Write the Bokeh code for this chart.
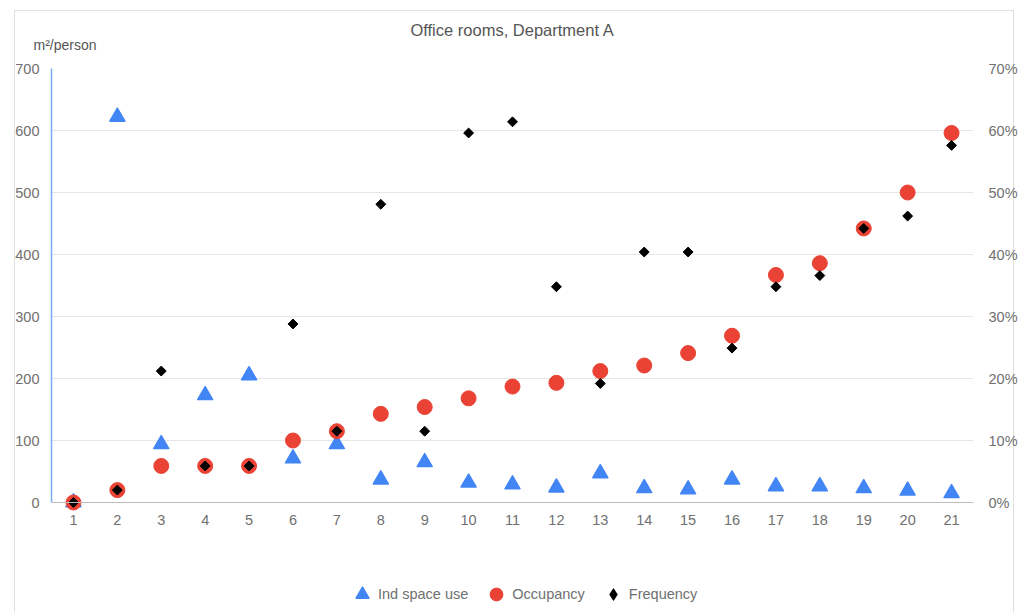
import math
from bokeh.plotting import figure
from bokeh.models import (ColumnDataSource, LinearAxis, Range1d, Legend, LegendItem,
                          FixedTicker, PrintfTickFormatter, Title, Span)
from bokeh.embed import file_html
from bokeh.resources import INLINE

rooms = list(range(1, 22))
room_labels = [str(r) for r in rooms]
ind_space_use = [0, 622, 94, 173, 205, 71, 94, 37, 65, 32, 29, 24, 47, 23, 21, 37, 26, 26, 23, 19, 15]
occupancy_pct = [0, 2.0, 5.9, 5.9, 5.9, 10.0, 11.5, 14.3, 15.4, 16.8, 18.7, 19.3, 21.2, 22.1, 24.1, 26.9,
                 36.7, 38.6, 44.2, 50.0, 59.6]
frequency_pct = [0, 2.0, 21.2, 5.9, 5.9, 28.8, 11.5, 48.1, 11.5, 59.6, 61.4, 34.8, 19.2, 40.4, 40.4, 24.9,
                 34.8, 36.6, 44.2, 46.2, 57.6]
left_ticks = [0, 100, 200, 300, 400, 500, 600, 700]
right_ticks = [0, 10, 20, 30, 40, 50, 60, 70]

src = ColumnDataSource(dict(x=rooms, lbl=room_labels, ind=ind_space_use,
                            occ=occupancy_pct, freq=frequency_pct))

FONT = "Liberation Sans"
GRAY = "#707070"
TICK_FS = "14.5px"
BORDER = "#e0e0e0"

# frame extends below the zero line to leave room for the x labels and legend
Y_BOTTOM = -177.4
p = figure(width=1020, height=612, output_backend="svg", toolbar_location=None,
           x_range=Range1d(0.5, 21.5), y_range=Range1d(Y_BOTTOM, 700), title=None,
           x_axis_location=None,
           min_border_left=51, min_border_right=47, min_border_top=68, min_border_bottom=0)
p.outline_line_color = None
p.background_fill_color = "white"
p.border_fill_color = None
p.styles = {
    "background": (
        f"linear-gradient({BORDER},{BORDER}) 14px 10px / 1px 602px no-repeat, "
        f"linear-gradient({BORDER},{BORDER}) 14px 10px / 1000px 1px no-repeat, "
        f"linear-gradient({BORDER},{BORDER}) 1013px 10px / 1px 602px no-repeat, "
        "white"
    )
}

p.extra_y_ranges = {"pct": Range1d(Y_BOTTOM / 10, 70)}

# left axis
p.yaxis.ticker = FixedTicker(ticks=left_ticks)
p.yaxis.bounds = (0, 700)
p.yaxis.axis_line_color = "#7baaf7"
p.yaxis.axis_line_width = 1.5
p.yaxis.major_tick_line_color = None
p.yaxis.minor_tick_line_color = None
p.yaxis.major_tick_out = 0
p.yaxis.major_tick_in = 0
p.yaxis.major_label_text_color = GRAY
p.yaxis.major_label_text_font = FONT
p.yaxis.major_label_text_font_size = TICK_FS
p.yaxis.major_label_standoff = 12

# right axis
ra = LinearAxis(y_range_name="pct", ticker=FixedTicker(ticks=right_ticks),
                formatter=PrintfTickFormatter(format="%d%%"), bounds=(0, 70))
ra.axis_line_color = None
ra.major_tick_line_color = None
ra.minor_tick_line_color = None
ra.major_tick_out = 0
ra.major_tick_in = 0
ra.major_label_text_color = GRAY
ra.major_label_text_font = FONT
ra.major_label_text_font_size = TICK_FS
ra.major_label_standoff = 15
p.add_layout(ra, "right")

p.xgrid.grid_line_color = None
p.ygrid.ticker = FixedTicker(ticks=left_ticks[1:])
p.ygrid.grid_line_color = "#e6e6e6"
p.ygrid.grid_line_width = 1

# baseline at zero
p.add_layout(Span(location=0, dimension="width", line_color="#bdbdbd", line_width=1))

# category labels along the baseline
p.text(x="x", y=0, text="lbl", source=src, y_offset=12, text_align="center",
       text_baseline="top", text_color=GRAY, text_font_size=TICK_FS,
       text_font={"value": FONT})

r1 = p.scatter("x", "ind", source=src, marker="triangle", size=15, fill_color="#4285f4",
               line_color="#4285f4", line_join="round", line_width=1.5)
r2 = p.scatter("x", "occ", source=src, y_range_name="pct", marker="circle", size=15,
               fill_color="#ea4335", line_color="#ea4335")
r3 = p.scatter("x", "freq", source=src, y_range_name="pct", marker="square", size=7,
               angle=math.pi / 4, fill_color="black", line_color="black")
# legend swatch for the frequency series (zero-size marks, diamond-shaped key)
r3_key = p.scatter("x", "freq", source=src, y_range_name="pct", marker="diamond", size=0,
                   fill_color="black", line_color=None)

legend = Legend(items=[LegendItem(label="Ind space use", renderers=[r1]),
                       LegendItem(label="Occupancy", renderers=[r2]),
                       LegendItem(label="Frequency", renderers=[r3_key])],
                orientation="horizontal", location=(295, 2), border_line_color=None,
                background_fill_alpha=0, label_text_font=FONT, label_text_font_size="14.5px",
                label_text_color=GRAY, glyph_width=32, glyph_height=32, spacing=12,
                label_standoff=-8, margin=0, padding=0)
p.add_layout(legend, "center")

# titles (first added is closest to the frame)
p.add_layout(Title(text=" ", text_font_size="12px", standoff=0), "above")
p.add_layout(Title(text="m²/person", align="left", offset=-18, text_font=FONT,
                   text_font_size="14px", text_font_style="normal", text_color="#555555",
                   standoff=0), "above")
p.add_layout(Title(text="Office rooms, Department A", align="center", text_font=FONT,
                   text_font_size="16.5px", text_font_style="normal", text_color="#555555",
                   standoff=-8), "above")

open("out.html", "w").write(file_html(p, INLINE))
